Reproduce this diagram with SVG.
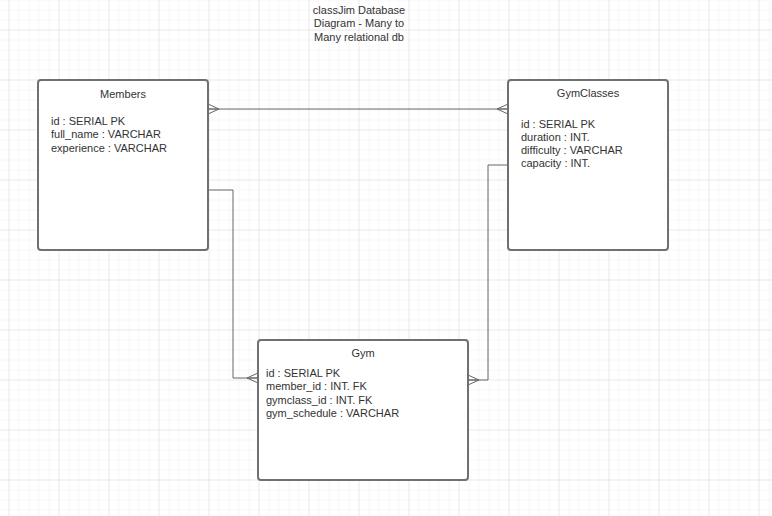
<svg xmlns="http://www.w3.org/2000/svg" width="772" height="516" viewBox="0 0 772 516">
  <defs>
    <pattern id="minor" x="8.5" y="9.5" width="10" height="10" patternUnits="userSpaceOnUse">
      <path d="M0 0H10M0 0V10" fill="none" stroke="#eeeeee" stroke-width="1"/>
    </pattern>
    <pattern id="major" x="8.5" y="29.5" width="50" height="50" patternUnits="userSpaceOnUse">
      <path d="M0 0H50M0 0V50" fill="none" stroke="#dddddd" stroke-width="1"/>
    </pattern>
    <!-- crow's foot ("many") end, prongs spread against the entity -->
    <marker id="many" viewBox="0 0 14 14" refX="13" refY="7" markerWidth="14" markerHeight="14" markerUnits="userSpaceOnUse" orient="auto-start-reverse">
      <path d="M2 7L13 2M2 7H13M2 7L13 12" fill="none" stroke="#666666" stroke-width="1"/>
    </marker>
  </defs>
  <style>
    .entity { fill: #ffffff; stroke: #707070; stroke-width: 2; }
    .title { font-family: "Liberation Sans", Arial, sans-serif; font-size: 11px; fill: #333333; text-anchor: middle; }
    .field { font-family: "Liberation Sans", Arial, sans-serif; font-size: 11px; fill: #333333; }
    .edge { fill: none; stroke: #666666; stroke-width: 1; }
  </style>

  <rect width="772" height="516" fill="#ffffff"/>
  <rect width="772" height="516" fill="url(#minor)"/>
  <rect width="772" height="516" fill="url(#major)"/>

  <g id="heading">
    <text class="title" x="359" y="14">classJim Database</text>
    <text class="title" x="359" y="27">Diagram - Many to</text>
    <text class="title" x="359" y="41">Many relational db</text>
  </g>

  <g id="connectors">
    <path class="edge" d="M208 109H508" marker-start="url(#many)" marker-end="url(#many)"/>
    <path class="edge" d="M208 190H233V378H258" marker-end="url(#many)"/>
    <path class="edge" d="M508 165H488V380H468" marker-end="url(#many)"/>
  </g>

  <g id="members">
    <rect class="entity" x="38" y="80" width="170" height="170" rx="3"/>
    <text class="title" x="123" y="98">Members</text>
    <text class="field" x="51" y="125">id : SERIAL PK</text>
    <text class="field" x="51" y="138">full_name : VARCHAR</text>
    <text class="field" x="51" y="152">experience : VARCHAR</text>
  </g>

  <g id="gymclasses">
    <rect class="entity" x="508" y="80" width="160" height="170" rx="3"/>
    <text class="title" x="588" y="97">GymClasses</text>
    <text class="field" x="521" y="128">id : SERIAL PK</text>
    <text class="field" x="521" y="141">duration : INT.</text>
    <text class="field" x="521" y="154">difficulty : VARCHAR</text>
    <text class="field" x="521" y="167">capacity : INT.</text>
  </g>

  <g id="gym">
    <rect class="entity" x="258" y="340" width="210" height="140" rx="3"/>
    <text class="title" x="363" y="357">Gym</text>
    <text class="field" x="266" y="377">id : SERIAL PK</text>
    <text class="field" x="266" y="390">member_id : INT. FK</text>
    <text class="field" x="266" y="404">gymclass_id : INT. FK</text>
    <text class="field" x="266" y="417">gym_schedule : VARCHAR</text>
  </g>
</svg>
